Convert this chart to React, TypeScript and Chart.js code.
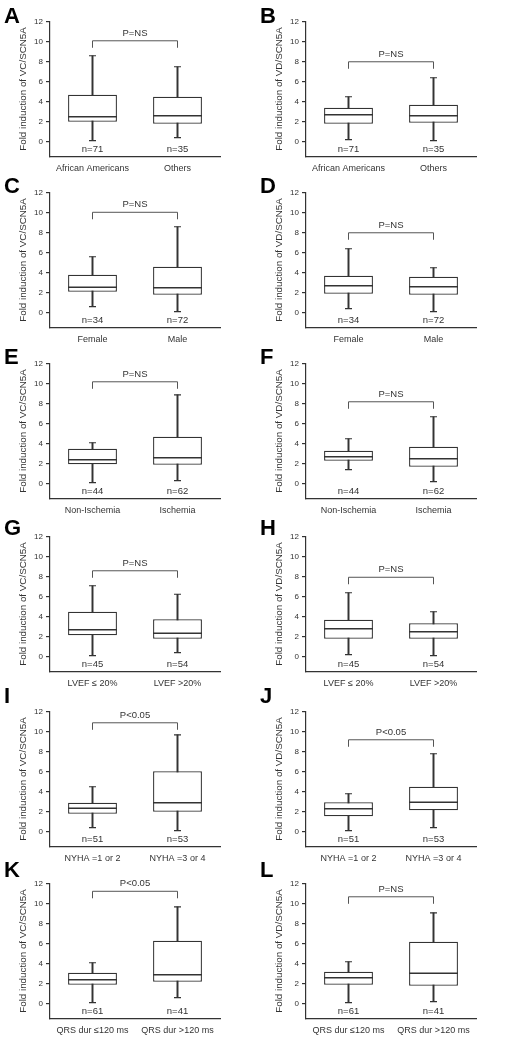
import React, { useEffect, useRef } from 'react';
import { Chart, registerables } from 'chart.js';

Chart.register(...registerables);

// ---------- data ----------
const panelLetters = ['A', 'B', 'C', 'D', 'E', 'F', 'G', 'H', 'I', 'J', 'K', 'L'];
const rowGroups = [
  ['African Americans', 'Others'],
  ['Female', 'Male'],
  ['Non-Ischemia', 'Ischemia'],
  ['LVEF \u2264 20%', 'LVEF >20%'],
  ['NYHA =1 or 2', 'NYHA =3 or 4'],
  ['QRS dur \u2264120 ms', 'QRS dur >120 ms'],
];
const rowSampleSizes = [[71, 35], [34, 72], [44, 62], [45, 54], [51, 53], [61, 41]];
const columnYTitles = ['Fold induction of VC/SCN5A', 'Fold induction of VD/SCN5A'];
const pLabels = ['P=NS', 'P=NS', 'P=NS', 'P=NS', 'P=NS', 'P=NS', 'P=NS', 'P=NS', 'P<0.05', 'P<0.05', 'P<0.05', 'P=NS'];
const minValues = [[0.1, 0.4], [0.2, 0.1], [0.6, 0.1], [0.4, 0.1], [0.1, 0.3], [1.4, 0.2], [0.1, 0.4], [0.2, 0.1], [0.4, 0.1], [0.1, 0.4], [0.1, 0.6], [0.1, 0.2]];
const q1Values = [[2.0, 1.8], [1.8, 1.9], [2.1, 1.8], [1.9, 1.8], [1.95, 1.9], [2.3, 1.7], [2.15, 1.8], [1.8, 1.8], [1.8, 2.0], [1.55, 2.15], [1.9, 2.2], [1.9, 1.8]];
const medianValues = [[2.5, 2.6], [2.7, 2.6], [2.55, 2.5], [2.7, 2.6], [2.4, 2.6], [2.7, 2.5], [2.7, 2.35], [2.8, 2.5], [2.35, 2.9], [2.3, 2.95], [2.4, 2.9], [2.6, 3.05]];
const q3Values = [[4.7, 4.5], [3.4, 3.7], [3.8, 4.6], [3.7, 3.6], [3.5, 4.7], [3.3, 3.7], [4.5, 3.75], [3.7, 3.35], [2.9, 6.05], [2.95, 4.5], [3.1, 6.3], [3.2, 6.2]];
const maxValues = [[8.6, 7.5], [4.5, 6.4], [5.6, 8.6], [6.4, 4.5], [4.1, 8.9], [4.5, 6.7], [7.1, 6.25], [6.4, 4.5], [4.5, 9.7], [3.8, 7.8], [4.1, 9.7], [4.2, 9.1]];
const bracketLevels = [10.1, 8.0, 10.05, 8.0, 10.2, 8.2, 8.6, 7.95, 10.9, 9.2, 11.25, 10.7];
const yTicks = [0, 2, 4, 6, 8, 10, 12];
const yMin = -1.45;
const yMax = 12;
const nLabelValue = -0.75;

// ---------- layout / style ----------
const FAMILY = '"Liberation Sans", Arial, sans-serif';
const INK = '#333333';
const CANVAS_W = 256;
const CANVAS_H = 186;
const AREA_TOP = 25;
const X_AXIS_H = 20;
const rowTick12 = [21, 191.5, 363.3, 536, 711, 883.3];
const rowLetterBaseline = [23, 193, 364, 535, 703, 877];

const annotatePlugin = {
  id: 'annotate',
  afterDraw(chart: any, _args: any, opts: any) {
    const { ctx } = chart;
    const x = chart.scales.x;
    const y = chart.scales.y;
    ctx.save();
    ctx.fillStyle = INK;
    ctx.font = `9.5px ${FAMILY}`;
    ctx.textAlign = 'center';
    ctx.textBaseline = 'middle';
    opts.n.forEach((n: number, i: number) => {
      ctx.fillText('n=' + n, x.getPixelForValue(i), y.getPixelForValue(nLabelValue));
    });
    const x0 = x.getPixelForValue(0);
    const x1 = x.getPixelForValue(1);
    const yb = y.getPixelForValue(opts.bracket);
    const yd = y.getPixelForValue(opts.bracket - 0.7);
    ctx.strokeStyle = '#555';
    ctx.lineWidth = 1;
    ctx.beginPath();
    ctx.moveTo(x0, yd);
    ctx.lineTo(x0, yb);
    ctx.lineTo(x1, yb);
    ctx.lineTo(x1, yd);
    ctx.stroke();
    ctx.font = `9.5px ${FAMILY}`;
    ctx.fillText(opts.p, (x0 + x1) / 2, y.getPixelForValue(opts.bracket + 0.75));
    ctx.fillStyle = '#000';
    ctx.font = `bold 22px ${FAMILY}`;
    ctx.textAlign = 'left';
    ctx.textBaseline = 'alphabetic';
    ctx.fillText(opts.letter, opts.letterX, opts.letterY);
    ctx.restore();
  },
};

function Panel({ index }: { index: number }) {
  const ref = useRef<HTMLCanvasElement>(null);
  const row = Math.floor(index / 2);
  const col = index % 2;
  const canvasTop = Math.round(rowTick12[row] - AREA_TOP);
  useEffect(() => {
    const cats = rowGroups[row];
    const mins = minValues[index];
    const q1 = q1Values[index];
    const med = medianValues[index];
    const q3 = q3Values[index];
    const maxs = maxValues[index];
    const chart = new Chart(ref.current as HTMLCanvasElement, {
      type: 'bar',
      data: {
        labels: cats,
        datasets: [
          {
            type: 'line',
            data: med,
            showLine: false,
            pointStyle: 'line',
            pointRadius: 24.5,
            pointBorderWidth: 1.3,
            pointBorderColor: INK,
            borderColor: INK,
            order: 0,
          } as any,
          {
            type: 'line',
            data: maxs,
            showLine: false,
            pointStyle: 'line',
            pointRadius: 3.5,
            pointBorderWidth: 1.2,
            pointBorderColor: INK,
            borderColor: INK,
            order: 0,
          } as any,
          {
            type: 'line',
            data: mins,
            showLine: false,
            pointStyle: 'line',
            pointRadius: 3.5,
            pointBorderWidth: 1.2,
            pointBorderColor: INK,
            borderColor: INK,
            order: 0,
          } as any,
          {
            type: 'bar',
            data: cats.map((_, i) => [q1[i], q3[i]]),
            backgroundColor: '#ffffff',
            borderColor: INK,
            borderWidth: 1.3,
            borderSkipped: false,
            barPercentage: 0.575,
            categoryPercentage: 1,
            grouped: false,
            order: 1,
          } as any,
          {
            type: 'bar',
            data: cats.map((_, i) => [mins[i], maxs[i]]),
            backgroundColor: INK,
            borderWidth: 0,
            barThickness: 1.3,
            grouped: false,
            order: 2,
          } as any,
        ],
      },
      options: {
        responsive: false,
        animation: false,
        devicePixelRatio: 1,
        events: [],
        layout: { padding: { top: AREA_TOP, right: 36, left: 0, bottom: 0 } },
        plugins: {
          legend: { display: false },
          tooltip: { enabled: false },
          annotate: {
            n: rowSampleSizes[row],
            bracket: bracketLevels[index],
            p: pLabels[index],
            letter: panelLetters[index],
            letterX: 4,
            letterY: rowLetterBaseline[row] - canvasTop,
          },
        } as any,
        scales: {
          x: {
            type: 'category',
            offset: true,
            grid: { display: false, drawTicks: false },
            border: { display: true, color: INK, width: 1.2 },
            ticks: { color: INK, font: { size: 9, family: FAMILY }, padding: 7, maxRotation: 0, autoSkip: false },
            afterFit: (s: any) => { s.height = X_AXIS_H; },
          },
          y: {
            type: 'linear',
            min: yMin,
            max: yMax,
            grid: { drawOnChartArea: false, drawTicks: true, tickLength: 4, color: INK, lineWidth: 1.2 },
            border: { display: true, color: INK, width: 1.2 },
            ticks: { color: INK, font: { size: 8, family: FAMILY }, padding: 3 },
            afterBuildTicks: (s: any) => { s.ticks = yTicks.map((v) => ({ value: v })); },
            afterFit: (s: any) => { s.width = 50; },
            title: {
              display: true,
              text: columnYTitles[col],
              color: INK,
              font: { size: 9.8, family: FAMILY },
              padding: { top: 17, bottom: 0 },
            },
          },
        },
      } as any,
      plugins: [annotatePlugin as any],
    });
    return () => chart.destroy();
  }, [index]);
  return (
    <canvas
      ref={ref}
      width={CANVAS_W}
      height={CANVAS_H}
      style={{ position: 'absolute', left: col * 256, top: canvasTop, width: CANVAS_W, height: CANVAS_H }}
    />
  );
}

export default function App() {
  return (
    <div style={{ position: 'absolute', left: 0, top: 0, width: 512, height: 1050, background: '#ffffff', overflow: 'hidden' }}>
      {panelLetters.map((_, i) => (
        <Panel key={i} index={i} />
      ))}
    </div>
  );
}
